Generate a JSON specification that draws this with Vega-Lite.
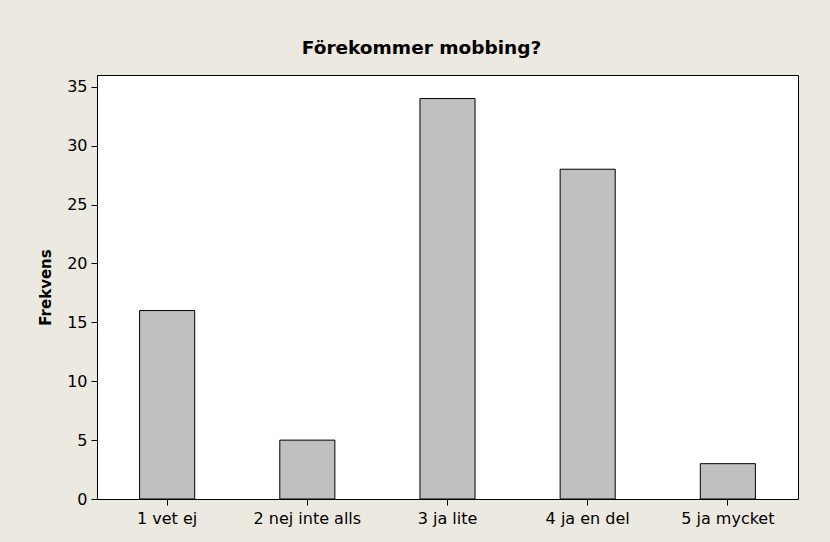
{
  "$schema": "https://vega.github.io/schema/vega-lite/v6.json",
  "autosize": {"type": "none"},
  "padding": {"left": 97, "top": 75, "right": 32, "bottom": 43},
  "width": 701,
  "height": 424,
  "background": "#ece9e0",
  "title": {
    "text": "Förekommer mobbing?",
    "font": "DejaVu Sans",
    "fontSize": 18.5,
    "fontWeight": "bold",
    "color": "#000000",
    "anchor": "middle",
    "dx": -26,
    "offset": 18
  },
  "data": {
    "values": [
      {"kategori": "1 vet ej", "frekvens": 16},
      {"kategori": "2 nej inte alls", "frekvens": 5},
      {"kategori": "3 ja lite", "frekvens": 34},
      {"kategori": "4 ja en del", "frekvens": 28},
      {"kategori": "5 ja mycket", "frekvens": 3}
    ]
  },
  "mark": {"type": "bar", "fill": "#c0c0c0", "stroke": "#000000", "strokeWidth": 1},
  "encoding": {
    "x": {
      "field": "kategori",
      "type": "nominal",
      "sort": null,
      "scale": {"paddingInner": 0.607, "paddingOuter": 0.304},
      "axis": {
        "title": null,
        "labelAngle": 0,
        "labelFont": "DejaVu Sans",
        "labelFontSize": 16,
        "labelColor": "#000000",
        "labelPadding": 5,
        "tickSize": 6,
        "tickColor": "#000000",
        "domainColor": "#000000",
        "grid": false
      }
    },
    "y": {
      "field": "frekvens",
      "type": "quantitative",
      "scale": {"domain": [0, 36], "nice": false},
      "axis": {
        "title": "Frekvens",
        "titleFont": "DejaVu Sans",
        "titleFontSize": 15,
        "titleFontWeight": "bold",
        "titleColor": "#000000",
        "titlePadding": 13,
        "values": [0, 5, 10, 15, 20, 25, 30, 35],
        "labelFont": "DejaVu Sans",
        "labelFontSize": 16,
        "labelColor": "#000000",
        "labelPadding": 4,
        "tickSize": 6,
        "tickColor": "#000000",
        "domainColor": "#000000",
        "grid": false
      }
    }
  },
  "config": {
    "view": {"fill": "#ffffff", "stroke": "#000000", "strokeWidth": 1}
  }
}
